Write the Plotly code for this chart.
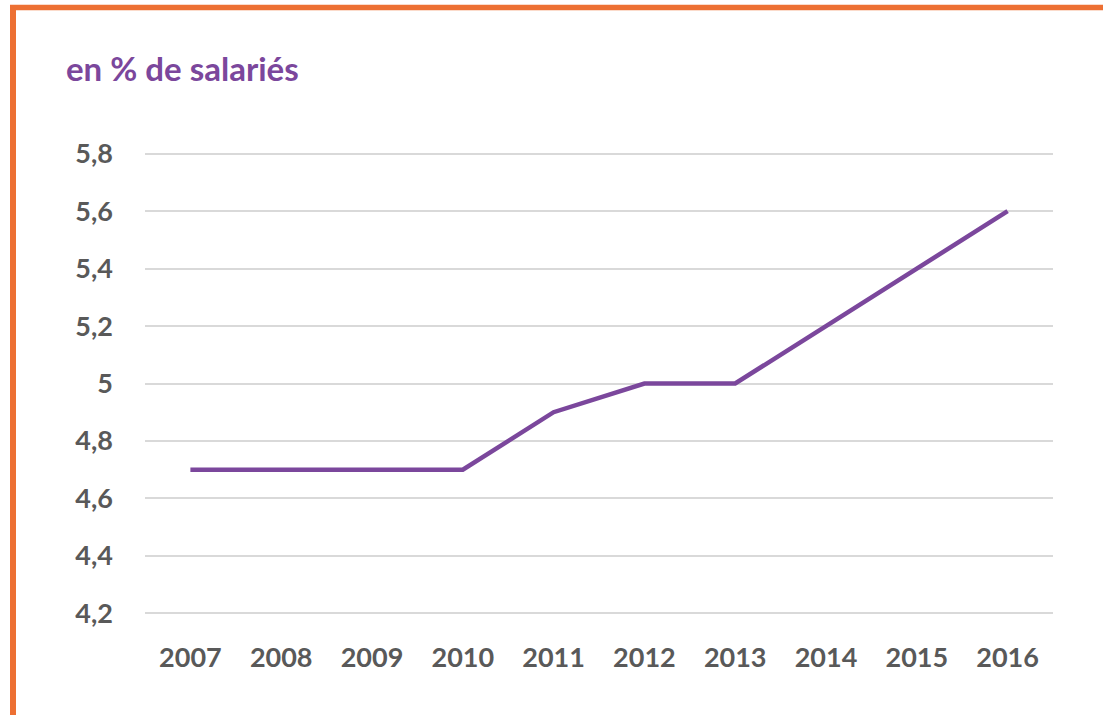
import plotly.graph_objects as go

years = ["2007", "2008", "2009", "2010", "2011", "2012", "2013", "2014", "2015", "2016"]
share = [4.7, 4.7, 4.7, 4.7, 4.9, 5.0, 5.0, 5.2, 5.4, 5.6]
y_ticks = [4.2, 4.4, 4.6, 4.8, 5.0, 5.2, 5.4, 5.6, 5.8]
y_labels = ["4,2", "4,4", "4,6", "4,8", "5", "5,2", "5,4", "5,6", "5,8"]

purple = "#7B479C"
orange = "#ED7033"
grey = "#595959"
font = "Lato"

fig = go.Figure(
    go.Scatter(
        x=years,
        y=share,
        mode="lines",
        line=dict(color=purple, width=4.5),
        showlegend=False,
    )
)

# plot area in pixels: x 145..1053, y ~148..619 (range padded so edge gridlines show)
W, H = 1103, 715
L, R, T, B = 145, 50, 148, 96
pw, ph = W - L - R, H - T - B


def px(x):
    return (x - L) / pw


def py(y):
    return (H - B - y) / ph


fig.update_layout(
    width=W,
    height=H,
    margin=dict(l=L, r=R, t=T, b=B),
    plot_bgcolor="white",
    paper_bgcolor="white",
    separators=", ",
    title=dict(
        text="<b>en % de salariés</b>",
        font=dict(family=font, size=33, color=purple),
        x=66 / W,
        xref="container",
        xanchor="left",
        y=1 - 69 / H,
        yref="container",
        yanchor="middle",
    ),
    xaxis=dict(
        type="category",
        range=[-0.5, 9.5],
        showgrid=False,
        showline=False,
        ticks="",
        ticklabelstandoff=20,
        tickfont=dict(family=font, size=27, color=grey, weight="bold"),
    ),
    yaxis=dict(
        range=[4.18, 5.82],
        tickvals=y_ticks,
        ticktext=y_labels,
        showgrid=True,
        gridcolor="#D9D9D9",
        gridwidth=2,
        zeroline=False,
        showline=False,
        ticks="",
        ticklabelstandoff=31,
        tickfont=dict(family=font, size=27, color=grey, weight="bold"),
    ),
    shapes=[
        dict(type="line", xref="paper", yref="paper",
             x0=px(10), x1=px(W + 10), y0=py(7.5), y1=py(7.5),
             line=dict(color=orange, width=5.5)),
        dict(type="line", xref="paper", yref="paper",
             x0=px(13), x1=px(13), y0=py(5), y1=py(H + 10),
             line=dict(color=orange, width=6)),
    ],
)

fig.write_html(
    "out.html",
    config={"displayModeBar": False},
    post_script="document.body.style.margin='0';",
)
